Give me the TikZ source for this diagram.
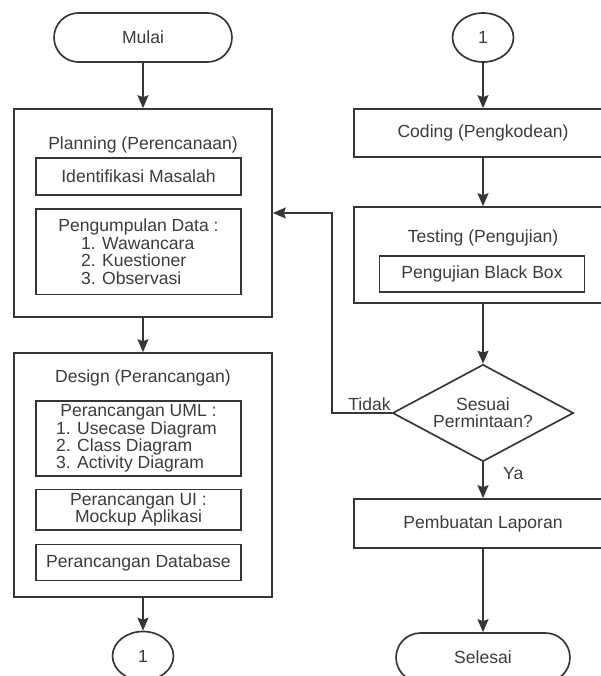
\documentclass[tikz,border=0pt]{standalone}
\usepackage{fontspec}
\setmainfont{Liberation Sans}
\usetikzlibrary{arrows.meta,positioning,shapes.geometric,shapes.misc}
\definecolor{cgaris}{HTML}{363636}
\definecolor{cteks}{HTML}{3C3C3C}
\tikzset{
  kotak/.style={draw=cgaris,line width=0.95pt,fill=white,align=center,inner sep=2pt,
                font=\fontsize{10}{9.9}\selectfont,text=cteks},
  tahap/.style={kotak,minimum width=5.16cm},
  subkotak/.style={kotak,minimum width=4.1cm},
  terminal/.style={kotak,rounded rectangle,minimum width=3.7cm,minimum height=0.98cm},
  konektor/.style={kotak,ellipse,inner sep=0pt,minimum width=1.22cm,minimum height=0.98cm},
  keputusan/.style={kotak,diamond,aspect=1.87,inner sep=0pt,
                    minimum width=3.62cm,minimum height=1.94cm},
  panah/.style={-{Stealth[length=2.6mm,width=2.2mm,inset=0.4mm]},draw=cgaris,line width=0.95pt},
  judul/.style={font=\fontsize{10}{12}\selectfont,text=cteks,inner sep=1pt},
  et/.style={judul},
}
\begin{document}
\begin{tikzpicture}[x=0.02cm,y=-0.02cm]
\useasboundingbox (0,0) rectangle (601,676);

% kolom kiri
\node[terminal] (mulai) at (143,37.5) {Mulai};
\node[tahap,minimum height=4.16cm] (plan) at (143,213) {};
\node[judul] (tplan) at (143,145) {Planning (Perencanaan)};
\node[subkotak,minimum height=0.74cm] (ident) at (138.5,176.5) {Identifikasi Masalah};
\node[subkotak,minimum height=1.72cm,below=2.4mm of ident] (data)
  {Pengumpulan Data :\\ \makebox[2.3cm][l]{1. Wawancara}\\
   \makebox[2.3cm][l]{2. Kuestioner}\\ \makebox[2.3cm][l]{3. Observasi}};

\node[tahap,minimum height=4.88cm] (design) at (143,475) {};
\node[judul] (tdesign) at (143,378) {Design (Perancangan)};
\node[subkotak,minimum height=1.46cm] (uml) at (138.5,438.5)
  {Perancangan UML :\\ \makebox[3.3cm][l]{1. Usecase Diagram}\\
   \makebox[3.3cm][l]{2. Class Diagram}\\ \makebox[3.3cm][l]{3. Activity Diagram}};
\node[subkotak,minimum height=0.72cm,below=2.4mm of uml] (ui) {Perancangan UI :\\Mockup Aplikasi};
\node[subkotak,minimum height=0.72cm,below=2.6mm of ui] (db) {Perancangan Database};
\node[konektor] (ke1) at (143,656) {1};

% kolom kanan
\node[konektor] (dari1) at (483,37.5) {1};
\node[tahap,minimum height=0.96cm] (coding) at (483,133) {Coding (Pengkodean)};
\node[tahap,minimum height=1.92cm] (testing) at (483,255) {};
\node[judul] (ttesting) at (483,238) {Testing (Pengujian)};
\node[subkotak,minimum height=0.72cm] (bb) at (482,274) {Pengujian Black Box};
\node[keputusan] (cek) at (483,413) {Sesuai\\Permintaan?};
\node[tahap,minimum height=0.98cm] (laporan) at (483,523.5) {Pembuatan Laporan};
\node[terminal,minimum width=3.62cm] (selesai) at (483,657.5) {Selesai};

\draw[panah] (mulai) -- (plan);
\draw[panah] (plan) -- (design);
\draw[panah] (design) -- (ke1);
\draw[panah] (dari1) -- (coding);
\draw[panah] (coding) -- (testing);
\draw[panah] (testing) -- (cek);
\draw[panah] (cek) -- node[et,right=3.5mm,pos=0.3]{Ya} (laporan);
\draw[panah] (laporan) -- (selesai);
\draw[panah] (cek.west) -- node[et,above,pos=0.37]{Tidak} ++(-60,0) |- (plan.east);

\end{tikzpicture}
\end{document}
